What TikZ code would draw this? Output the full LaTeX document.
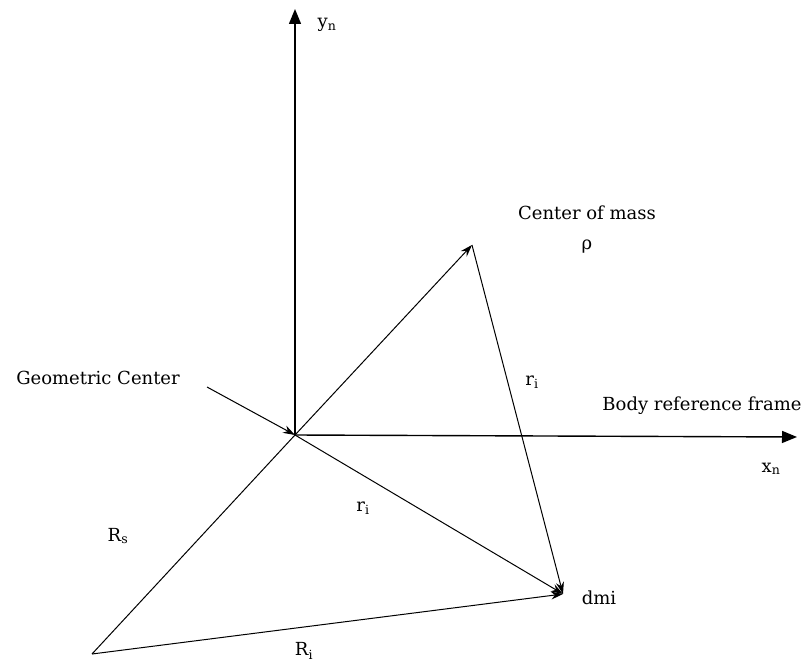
\documentclass[tikz,border=0pt]{standalone}
\usepackage{fontspec}
\setmainfont{DejaVu Serif}
\usetikzlibrary{arrows.meta,positioning}

\begin{document}
\begin{tikzpicture}[
    x=1pt, y=-1pt,
    font=\fontsize{18}{20}\selectfont,
    vec/.style={line width=1pt, ->, >={Stealth[length=12pt,width=8pt]}},
    axis/.style={line width=1.4pt, ->, >={Triangle[length=15pt,width=12pt]}},
    lbl/.style={inner sep=1pt}
]
\useasboundingbox (0,0) rectangle (804,669);

% points
\coordinate (gc) at (295,435);
\coordinate (ytip) at (295,9);
\coordinate (xtip) at (797,437);
\coordinate (cm) at (472,245);
\coordinate (dm) at (563,594);
\coordinate (base) at (92,654);
\coordinate (gcptr) at (207,387);

% labels
\node (yn) [lbl] at (327,25) {y\textsubscript{n}};
\node (xn) [lbl] at (771,469) {x\textsubscript{n}};
\node (body) [lbl] at (702,406) {Body reference frame};
\node (cmtxt) [lbl] at (587,213) {Center of mass};
\node (rho) [lbl] at (587,247) {ρ};
\node (gctxt) [lbl] at (98,378) {Geometric Center};
\node (ri1) [lbl] at (532,382) {r\textsubscript{i}};
\node (ri2) [lbl] at (363,508) {r\textsubscript{i}};
\node (rs) [lbl] at (118,536) {R\textsubscript{s}};
\node (bigri) [lbl] at (304,651) {R\textsubscript{i}};
\node (dmi) [lbl] at (599,598) {dmi};

% axes
\draw[axis] (gc) -- (ytip);
\draw[axis] (gc) -- (xtip);

% vectors
\draw[vec] (gcptr) -- (gc);
\draw[vec] (gc) -- (cm);
\draw[vec] (cm) -- (dm);
\draw[vec] (gc) -- (dm);
\draw[line width=1pt] (base) -- (gc);
\draw[vec] (base) -- (dm);

\end{tikzpicture}
\end{document}
